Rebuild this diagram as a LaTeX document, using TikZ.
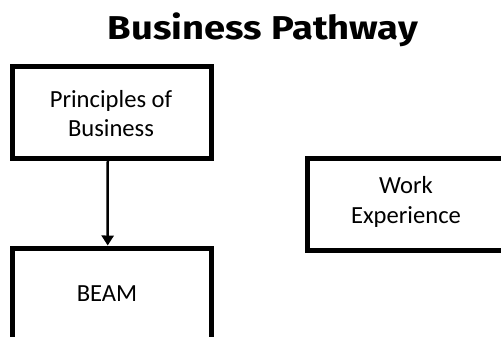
\documentclass[tikz,border=0pt]{standalone}
\usepackage{fontspec}
\usepackage{graphicx}
\setmainfont{Carlito}
\newfontfamily\titlefont{Fira Sans}
\usetikzlibrary{arrows.meta}
\newsavebox\titlebox
\begin{document}
\sbox\titlebox{\titlefont\bfseries\fontsize{33}{40}\selectfont Business Pathway}
\begin{tikzpicture}[x=1pt,y=-1pt,
  box/.style={draw, line width=5pt, inner sep=0pt},
  boxlabel/.style={font=\fontsize{24.6}{29.4}\selectfont, align=center, inner sep=0pt},
  arrowline/.style={line width=2.5pt, -{Triangle[width=12pt,length=10pt]}}]
\clip (0,0) rectangle (501,337);
\useasboundingbox (0,0) rectangle (501,337);
\node[inner sep=0pt, anchor=base] (title) at (263,40) {\resizebox{310pt}{\ht\titlebox}{\usebox\titlebox}};
\node[box, minimum width=199.5pt, minimum height=91.5pt] (princ) at (111.75,112.25) {};
\node[box, minimum width=199pt, minimum height=97pt] (beam) at (111.5,296.5) {};
\node[box, minimum width=198pt, minimum height=92pt] (work) at (406,204) {};
\node[boxlabel, anchor=base] (princtext) at (111,136.7) {Principles of\\Business};
\node[boxlabel, anchor=base] (beamtext) at (107,301.7) {BEAM};
\node[boxlabel, anchor=base] (worktext) at (406,223.3) {Work\\Experience};
\draw[arrowline] ([xshift=-4pt]princ.south) -- ([xshift=-3.8pt]beam.north);
\end{tikzpicture}
\end{document}
